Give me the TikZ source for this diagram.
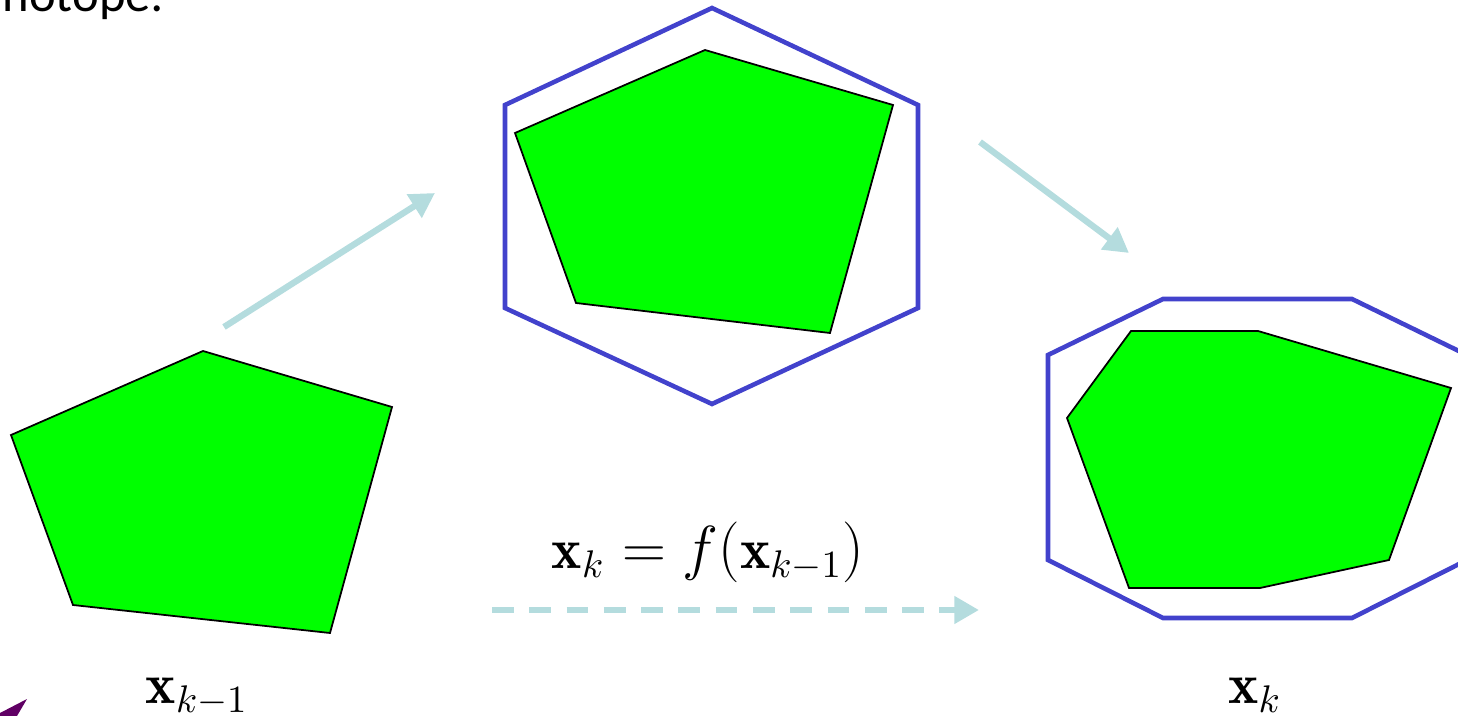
\documentclass[tikz,border=0pt]{standalone}
\usepackage{fontspec}
\newfontfamily\slidefont{Carlito}
\usetikzlibrary{arrows.meta}

\definecolor{setgreen}{RGB}{0,255,0}
\definecolor{boxblue}{RGB}{66,66,204}
\definecolor{flowcyan}{RGB}{180,220,222}
\definecolor{markpurple}{RGB}{96,0,100}

\begin{document}
\begin{tikzpicture}[
  x=0.01cm, y=-0.01cm,
  setpoly/.style={fill=setgreen, draw=black, line width=0.5pt, line join=miter},
  hull/.style={draw=boxblue, line width=1.3pt, line join=miter},
  flow/.style={draw=flowcyan, line width=1.8pt,
    -{Triangle[length=7pt,width=7.5pt]}},
  label/.style={anchor=base, font=\fontsize{16.3}{19}\selectfont},
  every node/.style={inner sep=0pt}
]

% ==========================================================
% Moldura
% ==========================================================
\useasboundingbox (0,0) rectangle (1458,716);
\clip (0,0) rectangle (1458,716);

\node[anchor=base west, font=\slidefont\fontsize{14.4}{17}\selectfont]
  (titulo) at (2,12) {notope:};

% ==========================================================
% Conjunto em k-1
% ==========================================================
\draw[setpoly] (11,435) -- (203,351) -- (392,407) -- (330,633) -- (73,605) -- cycle;
\node[label] (xprev) at (197,703) {$\mathbf{x}_{k-1}$};

% ==========================================================
% Imagem pela f e envoltoria hexagonal
% ==========================================================
\draw[hull] (712,8) -- (918,105) -- (918,308) -- (712,404) -- (505,308) -- (505,105) -- cycle;
\draw[setpoly] (515,133) -- (705,50) -- (893,105) -- (830,333) -- (576,303) -- cycle;

% ==========================================================
% Conjunto em k e envoltoria octogonal
% ==========================================================
\draw[hull] (1163,299) -- (1352,299) -- (1467,355) -- (1467,560) -- (1352,618)
  -- (1163,618) -- (1048,560) -- (1048,355) -- cycle;
\draw[setpoly] (1131,331) -- (1258,331) -- (1451,388) -- (1389,560) -- (1260,588)
  -- (1129,588) -- (1067,418) -- cycle;
\node[label] (xnext) at (1255,703) {$\mathbf{x}_k$};

% ==========================================================
% Setas
% ==========================================================
\coordinate (a1) at (224,327);
\coordinate (b1) at (435,193);
\coordinate (a2) at (980,142);
\coordinate (b2) at (1129,253);
\coordinate (a3) at (492,610);
\coordinate (b3) at (979,610);

\draw[flow] (a1) -- (b1);
\draw[flow] (a2) -- (b2);
\draw[flow, dash pattern=on 6.2pt off 4.4pt] (a3) -- (b3);

\node[label] (mapa) at (708,568)
  {$\mathbf{x}_k = f\bigl(\mathbf{x}_{k-1}\bigr)$};

% marca no canto
\fill[markpurple] (0,716) -- (0,713) -- (27,699) -- (17,716) -- cycle;

\end{tikzpicture}
\end{document}
